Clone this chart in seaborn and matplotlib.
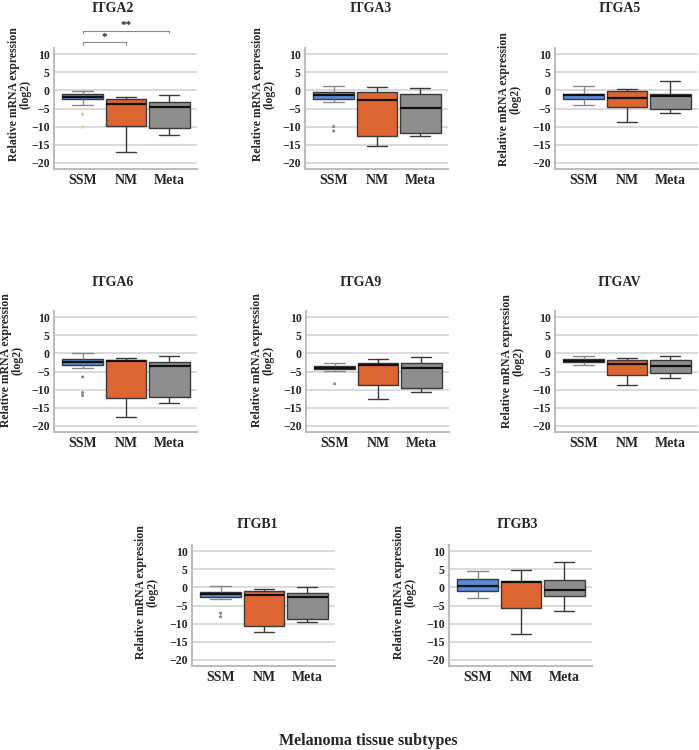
import numpy as np
import pandas as pd
import seaborn as sns
import matplotlib.pyplot as plt

genes = ['ITGA2', 'ITGA3', 'ITGA5', 'ITGA6', 'ITGA9', 'ITGAV', 'ITGB1', 'ITGB3']
groups = ['SSM', 'NM', 'Meta']
colors = ['#5B8BD8', '#DD6531', '#8E8E8E']

# five-number summaries per group: whisker low, q1, median, q3, whisker high
itga2 = [[-3.9, -2.4, -1.75, -1.1, -0.1], [-17.0, -9.9, -3.7, -2.3, -1.7], [-12.3, -10.4, -4.7, -3.1, -1.4]]
itga3 = [[-3.3, -2.5, -1.2, -0.55, 1.3], [-15.3, -12.5, -2.7, -0.4, 0.8], [-12.7, -11.8, -4.9, -1.0, 0.7]]
itga5 = [[-3.9, -2.4, -1.2, -0.9, 1.3], [-8.6, -4.7, -2.2, -0.2, 0.5], [-6.2, -5.1, -1.6, -1.1, 2.7]]
itga6 = [[-4.1, -3.3, -2.5, -1.5, 0.0], [-17.4, -12.2, -2.1, -1.8, -1.4], [-13.6, -12.0, -3.4, -2.3, -0.6]]
itga9 = [[-4.8, -4.3, -3.9, -3.5, -2.6], [-12.5, -8.6, -3.1, -2.6, -1.6], [-10.6, -9.5, -4.1, -2.7, -1.0]]
itgav = [[-3.3, -2.4, -2.2, -1.5, -0.8], [-8.6, -5.9, -3.0, -1.9, -1.3], [-6.8, -5.4, -3.5, -1.7, -0.8]]
itgb1 = [[-3.2, -2.6, -1.8, -1.2, 0.5], [-12.4, -10.6, -2.1, -0.9, -0.5], [-9.6, -8.8, -2.6, -1.5, 0.2]]
itgb3 = [[-2.9, -1.0, 0.3, 2.3, 4.4], [-12.8, -5.7, 1.5, 1.8, 4.9], [-6.4, -2.5, -0.6, 2.0, 7.1]]
summaries = [itga2, itga3, itga5, itga6, itga9, itgav, itgb1, itgb3]

# SSM outliers
ssm_outliers = [[-6.6, -10.1], [-10.0, -11.2], [], [-6.5, -10.8, -11.6], [-8.4], [], [-7.1, -8.1], []]

# significance brackets (ITGA2)
sig_pairs = [(0, 1), (0, 2)]
sig_heights = [13.2, 16.4]
sig_labels = ['*', '**']

rows = []
for gene, summ in zip(genes, summaries):
    for grp, vals in zip(groups, summ):
        for v in vals:
            rows.append((gene, grp, v))
df = pd.DataFrame(rows, columns=['gene', 'group', 'value'])

sns.set_style('whitegrid')
plt.rcParams['font.family'] = ['Liberation Serif', 'DejaVu Serif']
plt.rcParams['font.weight'] = 'bold'

W, H = 699, 750
fig = plt.figure(figsize=(W / 100, H / 100), dpi=100)

# panel layout in pixels: left, top, width, height
lefts = [54, 305, 555, 54, 306, 555, 192, 449]
tops = [48.2, 48.2, 48.2, 311.2, 311.2, 311.2, 545.2, 545.2]
title_xy = [(113, 9), (371, 9), (620, 9), (113, 283), (361, 283), (619, 283), (257, 525), (517, 525)]
ylab_xy = [(20, 94), (264, 94), (510, 99), (12, 360), (263, 360), (513, 361), (147, 592), (405, 592)]

for i, gene in enumerate(genes):
    ax = fig.add_axes([lefts[i] / W, 1 - (tops[i] + 120.6) / H, 143 / W, 120.6 / H])
    sub = df[df.gene == gene]
    sns.boxplot(data=sub, x='group', y='value', hue='group', order=groups,
                hue_order=groups, palette=colors, width=0.94, whis=(0, 100),
                showfliers=False, linecolor='#3a3a3a', linewidth=1.0,
                saturation=1, legend=False, ax=ax,
                medianprops=dict(color='#111111', linewidth=1.6))
    # lighter whiskers for SSM
    ssm = ax.containers[0]
    for ln in list(ssm.whiskers) + list(ssm.caps):
        ln.set_color('#8a8a8a')
    out = ssm_outliers[i]
    if out:
        sns.scatterplot(x=[0] * len(out), y=out, ax=ax, s=5,
                        color='#d9cf8a' if i == 0 else '#8a8a8a',
                        edgecolor='none', legend=False)
    ax.set_xlim(-0.66, 2.64)
    ax.set_ylim(-21.6, 11.6)
    ax.set_yticks([10, 5, 0, -5, -10, -15, -20])
    ax.grid(axis='x', visible=False)
    ax.grid(axis='y', color='#d8d8d8', linewidth=1.3)
    ax.set_axisbelow(True)
    for s in ['top', 'right']:
        ax.spines[s].set_visible(False)
    for s in ['left', 'bottom']:
        ax.spines[s].set_color('#bdbdbd')
        ax.spines[s].set_linewidth(1.5)
    ax.tick_params(axis='y', labelsize=8.5, length=2, color='#bdbdbd', pad=1)
    ax.tick_params(axis='x', labelsize=10, length=0, pad=4)
    ax.set_xlabel('')
    ax.set_ylabel('')
    fig.text(title_xy[i][0] / W, 1 - title_xy[i][1] / H, gene, ha='center',
             va='center', fontsize=10, fontweight='bold')
    fig.text(ylab_xy[i][0] / W, 1 - ylab_xy[i][1] / H,
             'Relative mRNA expression\n(log2)', rotation=90, ha='center',
             va='center', fontsize=8.5, fontweight='bold', linespacing=0.95)

    if i == 0:
        for (g1, g2), h, lab in zip(sig_pairs, sig_heights, sig_labels):
            ax.plot([g1, g1, g2, g2], [h - 0.7, h, h, h - 0.7], color='#8a8a8a',
                    lw=0.8, clip_on=False)
            ax.text((g1 + g2) / 2, h + 0.1, lab, ha='center', va='bottom',
                    fontsize=8, fontweight='bold')

fig.text(368 / W, 1 - 741 / H, 'Melanoma tissue subtypes', ha='center',
         va='center', fontsize=11.5, fontweight='bold')

plt.savefig('out.png', dpi=100)
